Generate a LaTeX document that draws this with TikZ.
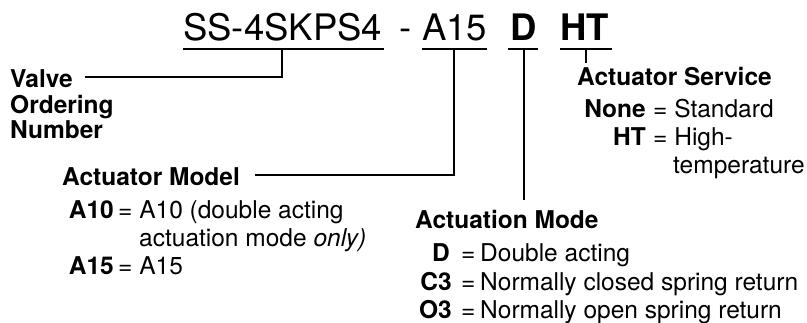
\documentclass[tikz,border=0pt]{standalone}
\usepackage{fontspec}
\setmainfont{TeX Gyre Heros}
\begin{document}
\begin{tikzpicture}[x=1pt,y=-1pt,
  lbl/.style={inner sep=0pt, anchor=base west, font=\fontsize{24.5}{28}\selectfont},
  hd/.style={inner sep=0pt, anchor=base west, font=\fontsize{24.5}{28}\selectfont\bfseries},
  code/.style={inner sep=0pt, anchor=base east, font=\fontsize{24.5}{28}\selectfont\bfseries},
  ttl/.style={inner sep=0pt, anchor=base west, font=\fontsize{36.5}{40}\selectfont},
  ttlb/.style={inner sep=0pt, anchor=base west, font=\fontsize{36.5}{40}\selectfont\bfseries},
  ln/.style={line width=1.4pt}]
\useasboundingbox (0,0) rectangle (807,322);

% title
\node[ttl] (ss) at (183,40) {SS-4SKPS4};
\node[ttl] (dash) at (399,40) {-};
\node[ttl] (a15) at (422,40) {A15};
\node[ttlb] (d) at (510,40) {D};
\node[ttlb] (ht) at (560,40) {HT};

% underlines
\coordinate (u1a) at (183,49); \coordinate (u1b) at (384,49);
\coordinate (u2a) at (422,49); \coordinate (u2b) at (487,49);
\coordinate (u3a) at (508,49); \coordinate (u3b) at (538,49);
\coordinate (u4a) at (560,49); \coordinate (u4b) at (612,49);
\draw[ln] (u1a) -- (u1b);
\draw[ln] (u2a) -- (u2b);
\draw[ln] (u3a) -- (u3b);
\draw[ln] (u4a) -- (u4b);

% valve ordering number
\node[hd] (valve) at (10,87) {Valve};
\node[hd] (ordering) at (10,113) {Ordering};
\node[hd] (number) at (10,138) {Number};

% actuator service
\node[hd] (aserv) at (577,85) {Actuator Service};
\node[code] (none) at (646,117) {None};
\node[lbl] (noneq) at (653,117) {= Standard};
\node[code] (htc) at (646,145) {HT};
\node[lbl] (hteq) at (653,145) {= High-};
\node[lbl] (temp) at (673,173) {temperature};

% actuator model
\node[hd] (amodel) at (62,185) {Actuator Model};
\node[code] (a10c) at (114,218) {A10};
\node[lbl] (a10eq) at (118,218) {= A10 (double acting};
\node[lbl] (a10b) at (139,246) {actuation mode \textit{only)}};
\node[code] (a15c) at (114,274) {A15};
\node[lbl] (a15eq) at (118,274) {= A15};

% actuation mode
\node[hd] (amode) at (415,228) {Actuation Mode};
\node[code] (dc) at (450,261) {D};
\node[lbl] (deq) at (461,261) {=};
\node[lbl] (dt) at (480,261) {Double acting};
\node[code] (c3c) at (452,290) {C3};
\node[lbl] (c3eq) at (461,290) {=};
\node[lbl] (c3t) at (480,290) {Normally closed spring return};
\node[code] (o3c) at (452,318) {O3};
\node[lbl] (o3eq) at (461,318) {=};
\node[lbl] (o3t) at (480,318) {Normally open spring return};

% connectors
\coordinate (k1) at (282,49); \coordinate (k1e) at (85,77);
\coordinate (k2) at (454,49); \coordinate (k2e) at (255,175);
\coordinate (k3) at (524,49); \coordinate (k3e) at (524,200);
\coordinate (k4) at (586,49); \coordinate (k4e) at (586,63);
\draw[ln] (k1) |- (k1e);
\draw[ln] (k2) |- (k2e);
\draw[ln] (k3) -- (k3e);
\draw[ln] (k4) -- (k4e);
\end{tikzpicture}
\end{document}
